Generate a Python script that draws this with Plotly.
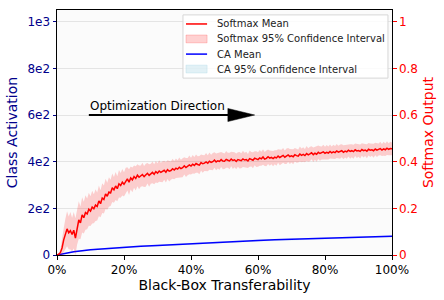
import plotly.graph_objects as go

# ---------------- data ----------------
# x positions (percent) for the softmax series, 0.5% steps
sm_x = [i * 0.5 for i in range(201)]

softmax_mean = [
    0.000, 0.003, 0.010, 0.030, 0.065, 0.090, 0.112, 0.095, 0.104, 0.088,
    0.106, 0.072, 0.118, 0.150, 0.138, 0.172, 0.160, 0.182, 0.176, 0.196,
    0.188, 0.205, 0.198, 0.214, 0.208, 0.232, 0.220, 0.244, 0.238, 0.262,
    0.252, 0.270, 0.266, 0.288, 0.279, 0.296, 0.284, 0.305, 0.298, 0.312,
    0.303, 0.318, 0.326, 0.312, 0.330, 0.322, 0.336, 0.328, 0.342, 0.333,
    0.338, 0.345, 0.336, 0.342, 0.350, 0.341, 0.348, 0.354, 0.346, 0.357,
    0.351, 0.360, 0.354, 0.357, 0.363, 0.355, 0.366, 0.359, 0.362, 0.370,
    0.364, 0.372, 0.368, 0.376, 0.370, 0.374, 0.382, 0.375, 0.379, 0.386,
    0.381, 0.389, 0.384, 0.392, 0.388, 0.385, 0.396, 0.391, 0.394, 0.399,
    0.393, 0.402, 0.397, 0.400, 0.407, 0.399, 0.404, 0.401, 0.409, 0.403,
    0.402, 0.410, 0.406, 0.403, 0.411, 0.405, 0.408, 0.401, 0.409, 0.406,
    0.404, 0.412, 0.407, 0.409, 0.403, 0.413, 0.410, 0.406, 0.415, 0.411,
    0.409, 0.416, 0.412, 0.420, 0.411, 0.414, 0.421, 0.415, 0.418, 0.413,
    0.419, 0.416, 0.424, 0.418, 0.421, 0.427, 0.419, 0.423, 0.429, 0.422,
    0.425, 0.421, 0.430, 0.426, 0.424, 0.433, 0.427, 0.431, 0.426, 0.435,
    0.429, 0.433, 0.438, 0.430, 0.436, 0.432, 0.440, 0.435, 0.437, 0.442,
    0.436, 0.440, 0.437, 0.444, 0.438, 0.442, 0.439, 0.446, 0.441, 0.443,
    0.447, 0.440, 0.445, 0.442, 0.449, 0.444, 0.447, 0.443, 0.451, 0.446,
    0.448, 0.444, 0.452, 0.447, 0.450, 0.445, 0.453, 0.449, 0.451, 0.447,
    0.454, 0.449, 0.452, 0.456, 0.450, 0.455, 0.451, 0.458, 0.453, 0.456,
    0.455,
]

softmax_ci_half = [
    0.002, 0.005, 0.012, 0.030, 0.050, 0.065, 0.075, 0.070, 0.080, 0.072,
    0.078, 0.085, 0.074, 0.080, 0.070, 0.076, 0.068, 0.074, 0.066, 0.071,
    0.064, 0.070, 0.062, 0.068, 0.060, 0.066, 0.058, 0.064, 0.060, 0.065,
    0.058, 0.063, 0.056, 0.061, 0.055, 0.060, 0.054, 0.059, 0.053, 0.057,
    0.052, 0.056, 0.050, 0.055, 0.049, 0.053, 0.048, 0.052, 0.047, 0.051,
    0.046, 0.050, 0.045, 0.049, 0.044, 0.048, 0.043, 0.047, 0.043, 0.046,
    0.042, 0.046, 0.041, 0.045, 0.041, 0.044, 0.040, 0.044, 0.039, 0.043,
    0.039, 0.042, 0.038, 0.042, 0.038, 0.041, 0.037, 0.041, 0.037, 0.040,
    0.036, 0.040, 0.036, 0.039, 0.035, 0.039, 0.035, 0.038, 0.034, 0.038,
    0.034, 0.037, 0.033, 0.037, 0.033, 0.036, 0.033, 0.036, 0.032, 0.035,
    0.033, 0.036, 0.032, 0.035, 0.031, 0.036, 0.032, 0.034, 0.031, 0.035,
    0.032, 0.035, 0.031, 0.034, 0.030, 0.035, 0.031, 0.034, 0.030, 0.034,
    0.031, 0.034, 0.030, 0.033, 0.030, 0.034, 0.031, 0.033, 0.029, 0.033,
    0.030, 0.033, 0.029, 0.033, 0.030, 0.032, 0.029, 0.033, 0.030, 0.032,
    0.029, 0.032, 0.029, 0.031, 0.028, 0.032, 0.029, 0.031, 0.028, 0.032,
    0.029, 0.031, 0.028, 0.031, 0.028, 0.032, 0.029, 0.031, 0.028, 0.031,
    0.028, 0.031, 0.028, 0.030, 0.027, 0.031, 0.028, 0.030, 0.027, 0.031,
    0.028, 0.030, 0.027, 0.030, 0.027, 0.031, 0.028, 0.030, 0.027, 0.030,
    0.027, 0.030, 0.027, 0.029, 0.026, 0.030, 0.027, 0.029, 0.026, 0.030,
    0.027, 0.029, 0.026, 0.029, 0.026, 0.030, 0.027, 0.029, 0.026, 0.029,
    0.027,
]

# class activation series, 5% steps
ca_x = [0, 5, 10, 15, 20, 25, 30, 35, 40, 45, 50, 55, 60, 65, 70, 75, 80, 85, 90, 95, 100]
ca_mean = [0, 14, 22, 28, 33, 37, 41, 45, 49, 52, 56, 59, 62, 65, 67, 70, 72, 74, 76, 78, 80]
ca_ci_half = [0, 3, 3, 4, 4, 4, 4, 4, 4, 4, 4, 4, 4, 4, 4, 4, 4, 4, 4, 4, 4]

x_ticks = [0, 20, 40, 60, 80, 100]
x_tick_text = ["0%", "20%", "40%", "60%", "80%", "100%"]
left_ticks = [0, 200, 400, 600, 800, 1000]
left_tick_text = ["0", "2e2", "4e2", "6e2", "8e2", "1e3"]
right_ticks = [0, 0.2, 0.4, 0.6, 0.8, 1.0]
right_tick_text = ["0", "0.2", "0.4", "0.6", "0.8", "1"]

legend_labels = ["Softmax Mean", "Softmax 95% Confidence Interval", "CA Mean", "CA 95% Confidence Interval"]

# ---------------- styles ----------------
FONT = "DejaVu Sans"
RED = "#ff0000"
BLUE = "#0000ff"
RED_FILL = "rgba(255,0,0,0.18)"
BLUE_FILL = "rgba(173,216,230,0.35)"

fig = go.Figure()

sm_hi = [m + h for m, h in zip(softmax_mean, softmax_ci_half)]
sm_lo = [max(m - h, 0) for m, h in zip(softmax_mean, softmax_ci_half)]
ca_hi = [m + h for m, h in zip(ca_mean, ca_ci_half)]
ca_lo = [max(m - h, 0) for m, h in zip(ca_mean, ca_ci_half)]

fig.add_trace(go.Scatter(
    x=ca_x + ca_x[::-1], y=ca_hi + ca_lo[::-1], fill="toself",
    fillcolor=BLUE_FILL, line=dict(width=0),
    name=legend_labels[3], yaxis="y", hoverinfo="skip"))
fig.add_trace(go.Scatter(
    x=ca_x, y=ca_mean, mode="lines", line=dict(color=BLUE, width=1.5),
    name=legend_labels[2], yaxis="y"))
fig.add_trace(go.Scatter(
    x=sm_x + sm_x[::-1], y=sm_hi + sm_lo[::-1], fill="toself",
    fillcolor=RED_FILL, line=dict(width=0),
    name=legend_labels[1], yaxis="y2", hoverinfo="skip"))
fig.add_trace(go.Scatter(
    x=sm_x, y=softmax_mean, mode="lines", line=dict(color=RED, width=1.5),
    name=legend_labels[0], yaxis="y2"))

# arrow annotation (in left-axis data coords)
arrow_tail, arrow_base, arrow_tip, arrow_y, head_half = 9.5, 51, 59, 600, 28
fig.add_shape(type="line", xref="x", yref="y", x0=arrow_tail, x1=arrow_base + 1,
              y0=arrow_y, y1=arrow_y, line=dict(color="black", width=2))
fig.add_shape(type="path", xref="x", yref="y",
              path=f"M {arrow_base},{arrow_y - head_half} L {arrow_tip},{arrow_y} L {arrow_base},{arrow_y + head_half} Z",
              fillcolor="black", line=dict(color="black", width=0.5))
fig.add_annotation(x=arrow_tail, y=arrow_y, xref="x", yref="y", text="Optimization Direction",
                   showarrow=False, xanchor="left", yanchor="bottom", yshift=0, xshift=-1,
                   font=dict(family=FONT, size=12, color="black"))

# hand-built legend box (matplotlib-like compact layout)
lg_x0, lg_x1, lg_y0, lg_y1 = 0.376, 0.988, 0.722, 0.980
lg_rows = [0.943, 0.882, 0.820, 0.759]
sym_x0, sym_x1, txt_x = 0.385, 0.448, 0.472
fig.add_shape(type="rect", xref="paper", yref="paper", x0=lg_x0, x1=lg_x1, y0=lg_y0, y1=lg_y1,
              fillcolor="rgba(255,255,255,0.85)", line=dict(color="#d6d6d6", width=1), layer="above")
sym_styles = [("line", RED), ("rect", RED_FILL), ("line", BLUE), ("rect", BLUE_FILL)]
for (kind, col), yy, lab in zip(sym_styles, lg_rows, legend_labels):
    if kind == "line":
        fig.add_shape(type="line", xref="paper", yref="paper", x0=sym_x0, x1=sym_x1, y0=yy, y1=yy,
                      line=dict(color=col, width=1.5), layer="above")
    else:
        fig.add_shape(type="rect", xref="paper", yref="paper", x0=sym_x0, x1=sym_x1,
                      y0=yy - 0.016, y1=yy + 0.016, fillcolor=col,
                      line=dict(color=col, width=1), layer="above")
    fig.add_annotation(x=txt_x, y=yy, xref="paper", yref="paper", text=lab, showarrow=False,
                       xanchor="left", yanchor="middle",
                       font=dict(family=FONT, size=10, color="#222"))

fig.update_layout(
    width=444, height=300,
    margin=dict(l=57, r=52, t=10, b=45, autoexpand=False),
    paper_bgcolor="white", plot_bgcolor="#fbfbfb",
    font=dict(family=FONT, size=12, color="black"),
    showlegend=False,
    xaxis=dict(range=[0, 100], tickvals=x_ticks, ticktext=x_tick_text, showgrid=False,
               zeroline=False, showline=True, linecolor="black", linewidth=1, mirror=True,
               ticks="outside", ticklen=3.5, tickcolor="black", automargin=False,
               tickfont=dict(family=FONT, size=12, color="black"),
               title=dict(text="Black-Box Transferability", font=dict(family=FONT, size=14, color="black"),
                          standoff=4)),
    yaxis=dict(range=[0, 1050], tickvals=left_ticks, ticktext=left_tick_text,
               showgrid=True, gridcolor="#e4e4e4", gridwidth=1, zeroline=False,
               showline=True, linecolor="black", linewidth=1, automargin=False,
               ticks="outside", ticklen=3.5, tickcolor="darkblue",
               tickfont=dict(family=FONT, size=12, color="darkblue"),
               title=dict(text="Class Activation", font=dict(family=FONT, size=14, color="darkblue"),
                          standoff=6)),
    yaxis2=dict(range=[0, 1.05], tickvals=right_ticks, ticktext=right_tick_text,
                overlaying="y", side="right", showgrid=False, zeroline=False,
                showline=True, linecolor="black", linewidth=1, automargin=False,
                ticks="outside", ticklen=3.5, tickcolor="red",
                tickfont=dict(family=FONT, size=12, color="red"),
                title=dict(text="Softmax Output", font=dict(family=FONT, size=14, color="red"),
                           standoff=6)),
)

fig.write_html("out.html", config={"displayModeBar": False},
               post_script="document.body.style.margin='0px';")
